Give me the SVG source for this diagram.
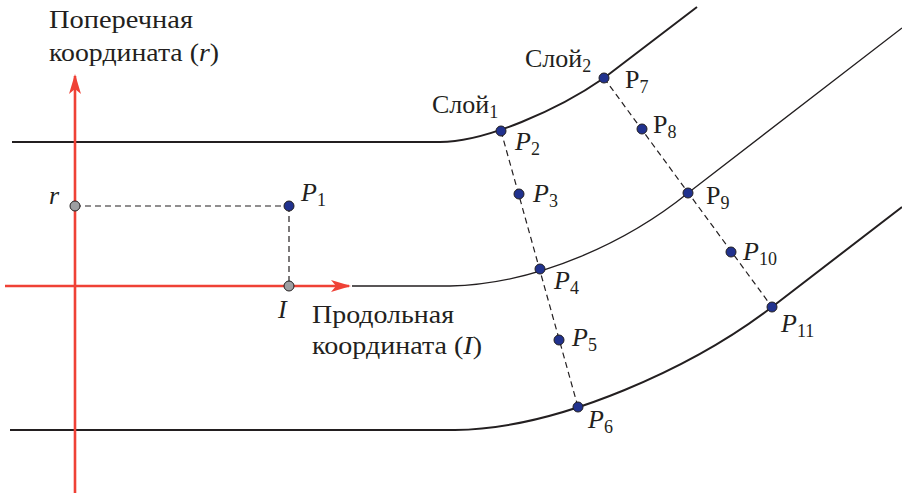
<svg xmlns="http://www.w3.org/2000/svg" width="902" height="497" viewBox="0 0 902 497">
<style>
.t{font-family:"Liberation Serif","Times New Roman",serif;font-size:26px;fill:#231f20}
.i{font-style:italic}
.s{font-size:18px;font-style:normal}
.curve{fill:none;stroke:#231f20}
.dash{fill:none;stroke:#231f20;stroke-width:1.2;stroke-dasharray:6 4}
.ax{fill:none;stroke:#ef4136;stroke-width:2.6}
.pt{fill:#21328e;stroke:#231f20;stroke-width:1}
.gp{fill:#9d9fa2;stroke:#231f20;stroke-width:1}
</style>
<defs>
<marker id="arr" viewBox="0 0 20 12" refX="18" refY="6" markerWidth="20" markerHeight="12" markerUnits="userSpaceOnUse" orient="auto">
<path d="M0,0 L20,6 L0,12 L5,6 Z" fill="#ef4136"/>
</marker>
</defs>
<g id="connectors">
<path class="curve" stroke-width="2" d="M12,142 H440 C485,142 558,110 604,78 L697,7"/>
<path class="curve" stroke-width="1.3" d="M352,286 H450 C540,284 630,240 688,193 L902,28"/>
<path class="curve" stroke-width="2" d="M10,430 H455 C560,429 695,366 772,307 L902,207"/>
<line class="dash" x1="75" y1="206" x2="289" y2="206"/>
<line class="dash" x1="289" y1="206" x2="289" y2="286"/>
<line class="dash" x1="501" y1="131" x2="578" y2="407"/>
<line class="dash" x1="604" y1="78" x2="772" y2="307"/>
<line class="ax" x1="75" y1="493" x2="75" y2="76" marker-end="url(#arr)"/>
<line class="ax" x1="5" y1="286" x2="349" y2="286" marker-end="url(#arr)"/>
</g>
<g id="axis-r-label"><text class="t" x="49" y="28" textLength="144" lengthAdjust="spacingAndGlyphs">Поперечная</text><text class="t" x="49" y="61" textLength="170" lengthAdjust="spacingAndGlyphs">координата (<tspan class="i">r</tspan>)</text></g>
<g id="axis-l-label"><text class="t" x="312" y="323" textLength="142" lengthAdjust="spacingAndGlyphs">Продольная</text><text class="t" x="312" y="354" textLength="170" lengthAdjust="spacingAndGlyphs">координата (<tspan class="i">I</tspan>)</text></g>
<g id="r"><circle class="gp" cx="75" cy="206" r="5"/><text class="t i" x="49" y="204">r</text></g>
<g id="I"><circle class="gp" cx="289" cy="286" r="5"/><text class="t i" x="278" y="318">I</text></g>
<g id="P1"><circle class="pt" cx="289" cy="206" r="5"/><text class="t i" x="301" y="201">P<tspan class="s" dy="5">1</tspan></text></g>
<g id="layer1"><text class="t" x="432" y="113">Слой<tspan class="s" dy="5">1</tspan></text></g>
<g id="layer2"><text class="t" x="525" y="67">Слой<tspan class="s" dy="5">2</tspan></text></g>
<g id="P2"><circle class="pt" cx="501" cy="131" r="5"/><text class="t i" x="515" y="150">P<tspan class="s" dy="5">2</tspan></text></g>
<g id="P3"><circle class="pt" cx="519" cy="194" r="5"/><text class="t i" x="533" y="202">P<tspan class="s" dy="5">3</tspan></text></g>
<g id="P4"><circle class="pt" cx="540" cy="269" r="5"/><text class="t i" x="554" y="289">P<tspan class="s" dy="5">4</tspan></text></g>
<g id="P5"><circle class="pt" cx="559" cy="340" r="5"/><text class="t i" x="572" y="346">P<tspan class="s" dy="5">5</tspan></text></g>
<g id="P6"><circle class="pt" cx="578" cy="407" r="5"/><text class="t i" x="588" y="428">P<tspan class="s" dy="5">6</tspan></text></g>
<g id="P7"><circle class="pt" cx="604" cy="78" r="5"/><text class="t" x="625" y="88">P<tspan class="s" dy="5">7</tspan></text></g>
<g id="P8"><circle class="pt" cx="642" cy="129" r="5"/><text class="t" x="653" y="133">P<tspan class="s" dy="5">8</tspan></text></g>
<g id="P9"><circle class="pt" cx="688" cy="193" r="5"/><text class="t" x="706" y="204">P<tspan class="s" dy="5">9</tspan></text></g>
<g id="P10"><circle class="pt" cx="731" cy="252" r="5"/><text class="t i" x="743" y="260">P<tspan class="s" dy="5">10</tspan></text></g>
<g id="P11"><circle class="pt" cx="772" cy="307" r="5"/><text class="t i" x="781" y="332">P<tspan class="s" dy="5">11</tspan></text></g>
</svg>
